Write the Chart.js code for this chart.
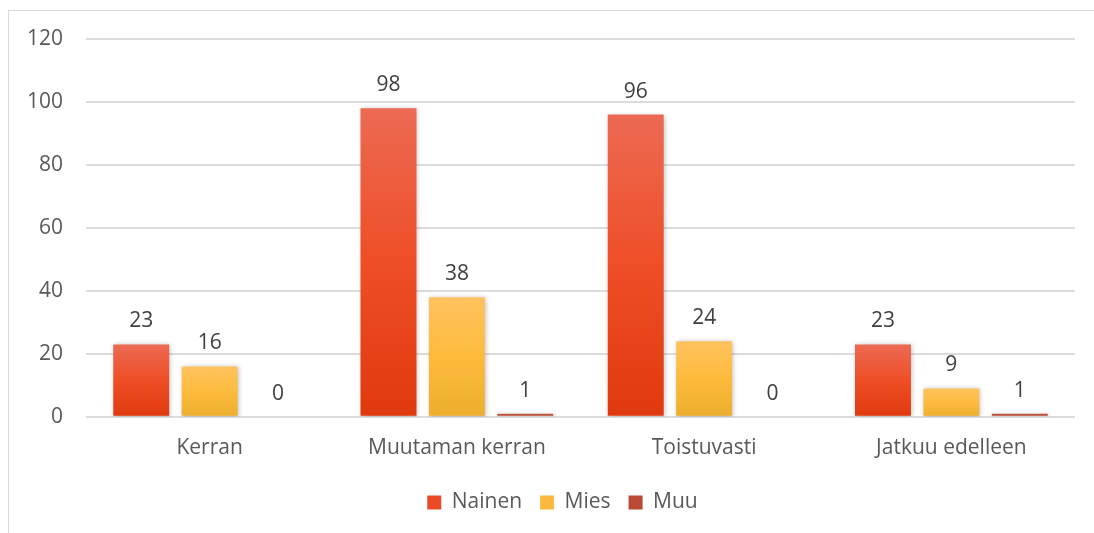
<!DOCTYPE html>
<html>
<head>
<meta charset="utf-8">
<script src="https://cdn.jsdelivr.net/npm/chart.js@4.4.1/dist/chart.umd.min.js"></script>
<style>
    html, body { margin: 0; padding: 0; background: #fff; overflow: hidden; }
    #wrap { position: relative; width: 1094px; height: 533px; }
    #frame { position: absolute; left: 8px; top: 10px; width: 1200px; height: 700px; border: 1px solid #d9d9d9; }
    canvas { position: absolute; left: 0; top: 0; }
</style>
</head>
<body>
<div id="wrap">
    <div id="frame"></div>
    <canvas id="kaavio" width="1094" height="533"></canvas>
</div>
<script>
var kategoriat = ["Kerran", "Muutaman kerran", "Toistuvasti", "Jatkuu edelleen"];
var nainen = [23, 98, 96, 23];
var mies = [16, 38, 24, 9];
var muu = [0, 1, 0, 1];
var yTicks = [0, 20, 40, 60, 80, 100, 120];

var fontti = "'Open Sans', 'Liberation Sans', sans-serif";

// gradient per bar, from the top of the bar down to the zero line
function palkkiVari(ylä, ala, kiintea) {
    return function (ctx) {
        var chart = ctx.chart;
        if (!chart.chartArea || !chart.scales.y) return kiintea;
        var y = chart.scales.y;
        var v = ctx.raw || 0;
        var top = y.getPixelForValue(v);
        var bottom = y.getPixelForValue(0);
        if (bottom - top < 1) return kiintea;
        var g = chart.ctx.createLinearGradient(0, top, 0, bottom);
        g.addColorStop(0, ylä);
        g.addColorStop(0.5, kiintea);
        g.addColorStop(1, ala);
        return g;
    };
}

// soft shadow behind the bars
var varjo = {
    id: 'varjo',
    beforeDatasetsDraw: function (chart) {
        var c = chart.ctx;
        c.save();
        c.shadowColor = 'rgba(0,0,0,0.28)';
        c.shadowBlur = 5;
        c.shadowOffsetX = 1;
        c.shadowOffsetY = 1;
    },
    afterDatasetsDraw: function (chart) {
        chart.ctx.restore();
    }
};

// legend sits a bit right of the centre
var legendSiirto = {
    id: 'legendSiirto',
    afterLayout: function (chart) {
        if (!chart.legend) return;
        chart.legend.left += 23;
        chart.legend.right += 23;
    }
};

// value labels above each bar
var arvot = {
    id: 'arvot',
    afterDraw: function (chart) {
        var c = chart.ctx;
        c.save();
        c.font = "21px " + fontti;
        c.fillStyle = '#404040';
        c.textAlign = 'center';
        c.textBaseline = 'alphabetic';
        chart.data.datasets.forEach(function (ds, i) {
            var meta = chart.getDatasetMeta(i);
            meta.data.forEach(function (bar, j) {
                c.fillText(String(ds.data[j]), bar.x, bar.y - 17);
            });
        });
        c.restore();
    }
};

var kaavio = new Chart(document.getElementById("kaavio"), {
    type: 'bar',
    data: {
        labels: kategoriat,
        datasets: [{
                label: 'Nainen',
                data: nainen,
                backgroundColor: palkkiVari('#ec6a53', '#e0390e', '#ee4e26')
            },
            {
                label: 'Mies',
                data: mies,
                backgroundColor: palkkiVari('#ffc35f', '#ecae2e', '#fdbb3c')
            },
            {
                label: 'Muu',
                data: muu,
                backgroundColor: palkkiVari('#c25a45', '#b0391d', '#bb4a33')
            }
        ]
    },
    options: {
        responsive: false,
        animation: false,
        layout: {
            padding: { left: 4, right: 19, top: 39, bottom: 10 }
        },
        datasets: {
            bar: {
                categoryPercentage: 0.83,
                barPercentage: 0.818
            }
        },
        plugins: {
            tooltip: { enabled: false },
            legend: {
                position: 'bottom',
                labels: {
                    font: { family: fontti, size: 21 },
                    color: '#595959',
                    boxWidth: 14,
                    boxHeight: 14,
                    padding: 18,
                    generateLabels: function (chart) {
                        var solid = ['#ea4b26', '#fbb93f', '#b94a33'];
                        return chart.data.datasets.map(function (ds, i) {
                            return {
                                text: ds.label,
                                fillStyle: solid[i],
                                strokeStyle: solid[i],
                                lineWidth: 0,
                                fontColor: '#595959',
                                datasetIndex: i
                            };
                        });
                    }
                }
            }
        },
        scales: {
            x: {
                grid: { display: false, drawTicks: false },
                border: { display: false },
                ticks: {
                    font: { family: fontti, size: 21 },
                    color: '#595959',
                    padding: 19
                },
                afterFit: function (axis) {
                    axis.height -= 6;
                }
            },
            y: {
                min: 0,
                max: 120,
                afterBuildTicks: function (axis) {
                    axis.ticks = yTicks.map(function (v) { return { value: v }; });
                },
                grid: { color: '#dcdcdc', lineWidth: 2, drawTicks: false },
                border: { display: false },
                ticks: {
                    font: { family: fontti, size: 21 },
                    color: '#595959',
                    padding: 23
                }
            }
        }
    },
    plugins: [varjo, legendSiirto, arvot]
});
</script>
</body>
</html>
